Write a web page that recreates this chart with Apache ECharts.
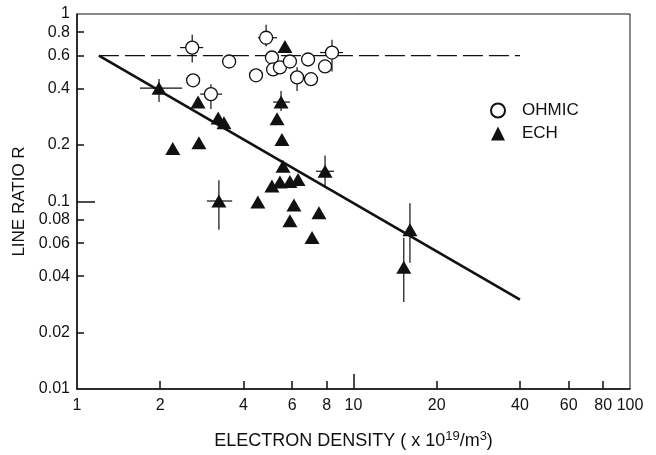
<!DOCTYPE html>
<html>
<head>
    <meta charset="utf-8">
    <title>Line ratio vs electron density</title>
    <script src="https://cdn.jsdelivr.net/npm/echarts@6/dist/echarts.min.js"></script>
    <style>
        html, body { margin: 0; padding: 0; background: #fff; }
        #chart { width: 656px; height: 455px; }
    </style>
</head>
<body>
<div id="chart"></div>
<script>
    // values (x: density in 1e19/m3, y: line ratio R)
    var ohmicX = [2.61, 3.55, 2.63, 3.05, 4.83, 5.07, 5.12, 5.42, 5.89, 6.85, 8.36, 7.89, 4.44, 6.25, 7.02];
    var ohmicY = [0.662, 0.558, 0.443, 0.374, 0.747, 0.586, 0.506, 0.519, 0.558, 0.572, 0.623, 0.525, 0.471, 0.459, 0.449];

    var echX = [1.98, 2.74, 2.22, 2.76, 3.24, 3.40, 3.26, 4.51, 5.47, 5.29, 5.51, 5.65, 5.56, 5.07, 5.42, 5.89, 6.30, 6.09, 5.89, 7.50, 7.89, 16.0, 15.2, 7.08];
    var echY = [0.402, 0.339, 0.1915, 0.206, 0.279, 0.263, 0.1006, 0.0994, 0.339, 0.276, 0.214, 0.670, 0.154, 0.121, 0.127, 0.128, 0.131, 0.0958, 0.0789, 0.087, 0.145, 0.0707, 0.0446, 0.0642];

    // error bars: vertical [x, yLow, yHigh], horizontal [y, xLow, xHigh]
    var errV = [
        [2.61, 0.551, 0.775], [3.05, 0.311, 0.422], [4.83, 0.670, 0.875], [8.36, 0.494, 0.729], [6.25, 0.388, 0.52],
        [1.98, 0.339, 0.45], [3.26, 0.0707, 0.130], [5.47, 0.304, 0.388], [7.89, 0.118, 0.176],
        [16.0, 0.0472, 0.098], [15.2, 0.0291, 0.064]
    ];
    var errH = [
        [0.662, 2.36, 2.86], [0.374, 2.79, 3.35], [0.747, 4.51, 5.29], [0.623, 7.57, 9.16],
        [0.402, 1.69, 2.40], [0.1006, 2.95, 3.64], [0.339, 5.12, 5.89], [0.145, 7.32, 8.50]
    ];

    // fitted line and reference level
    var fitX = [1.2, 40];
    var fitY = [0.6, 0.03];
    var refX = [1.2, 40];
    var refY = [0.6, 0.6];

    var xTicks = [1, 2, 4, 6, 8, 10, 20, 40, 60, 80, 100];
    var yTicks = [0.01, 0.02, 0.04, 0.06, 0.08, 0.1, 0.2, 0.4, 0.6, 0.8, 1];

    function pairs(xs, ys) {
        var out = [];
        for (var i = 0; i < xs.length; i++) out.push([xs[i], ys[i]]);
        return out;
    }
    function fmt(v) {
        return String(+v.toPrecision(2));
    }

    var ink = '#111';
    var sans = '"Liberation Sans", Arial, sans-serif';

    var chart = echarts.init(document.getElementById('chart'));
    var option = {
        animation: false,
        backgroundColor: '#fff',
        grid: {
            left: 77, right: 26, top: 14, bottom: 62,
            show: true, borderColor: ink, borderWidth: 1, backgroundColor: 'transparent'
        },
        legend: {
            data: ['OHMIC', 'ECH'],
            orient: 'vertical',
            left: 485,
            top: 97,
            itemWidth: 14,
            itemHeight: 14,
            itemGap: 6,
            textStyle: { fontSize: 17, color: ink, fontFamily: sans, padding: [0, 0, 0, 12] }
        },
        xAxis: [{
            type: 'log', logBase: 10, min: 1, max: 100,
            name: 'ELECTRON DENSITY ( x 10{sup|19}/m{sup|3})',
            nameLocation: 'middle',
            nameGap: 41,
            nameTextStyle: {
                fontSize: 18, color: ink, fontFamily: sans,
                rich: { sup: { fontSize: 13, color: ink, fontFamily: sans, padding: [0, 0, 9, 0] } }
            },
            axisLine: { lineStyle: { color: ink, width: 1.5 } },
            axisTick: { inside: true, length: 8, lineStyle: { color: ink, width: 1.5 },
                customValues: [2, 4, 6, 8, 20, 40, 60, 80] },
            axisLabel: { customValues: xTicks, formatter: fmt, margin: 9, fontSize: 16, color: ink, fontFamily: sans },
            minorTick: { show: false },
            splitLine: { show: false }
        }, {
            type: 'log', logBase: 10, min: 1, max: 100, position: 'bottom',
            axisLine: { show: false },
            axisTick: { inside: true, length: 15, lineStyle: { color: ink, width: 1.5 }, customValues: [10] },
            axisLabel: { show: false },
            splitLine: { show: false }
        }],
        yAxis: [{
            type: 'log', logBase: 10, min: 0.01, max: 1,
            name: 'LINE RATIO R',
            nameLocation: 'middle',
            nameGap: 47,
            nameTextStyle: { fontSize: 17, color: ink, fontFamily: sans },
            axisLine: { lineStyle: { color: ink, width: 1.5 } },
            axisTick: { inside: true, length: 7, lineStyle: { color: ink, width: 1.5 },
                customValues: [0.02, 0.04, 0.06, 0.08, 0.2, 0.4, 0.6, 0.8] },
            axisLabel: { customValues: yTicks, formatter: fmt, margin: 7, fontSize: 16, color: ink, fontFamily: sans },
            minorTick: { show: false },
            splitLine: { show: false }
        }, {
            type: 'log', logBase: 10, min: 0.01, max: 1, position: 'left',
            axisLine: { show: false },
            axisTick: { inside: true, length: 18, lineStyle: { color: ink, width: 1.5 }, customValues: [0.1] },
            axisLabel: { show: false },
            splitLine: { show: false }
        }],
        series: [
            {
                name: 'ref', type: 'line', data: pairs(refX, refY), symbol: 'none', z: 1,
                lineStyle: { color: ink, width: 1.3, type: [20, 6] }, silent: true
            },
            {
                name: 'fit', type: 'line', data: pairs(fitX, fitY), symbol: 'none', z: 1,
                lineStyle: { color: ink, width: 2.6 }, silent: true
            },
            {
                name: 'errV', type: 'custom', z: 2, data: errV,
                renderItem: function (params, api) {
                    var a = api.coord([api.value(0), api.value(1)]);
                    var b = api.coord([api.value(0), api.value(2)]);
                    return { type: 'line', shape: { x1: a[0], y1: a[1], x2: b[0], y2: b[1] },
                        style: { stroke: ink, lineWidth: 1.2 } };
                }
            },
            {
                name: 'errH', type: 'custom', z: 2, data: errH,
                renderItem: function (params, api) {
                    var a = api.coord([api.value(1), api.value(0)]);
                    var b = api.coord([api.value(2), api.value(0)]);
                    return { type: 'line', shape: { x1: a[0], y1: a[1], x2: b[0], y2: b[1] },
                        style: { stroke: ink, lineWidth: 1.2 } };
                }
            },
            {
                name: 'OHMIC', type: 'scatter', data: pairs(ohmicX, ohmicY), z: 3,
                symbol: 'circle', symbolSize: 13,
                itemStyle: { color: '#fff', borderColor: ink, borderWidth: 1.3, opacity: 1 }
            },
            {
                name: 'ECH', type: 'scatter', data: pairs(echX, echY), z: 4,
                symbol: 'triangle', symbolSize: [15, 13],
                itemStyle: { color: ink, opacity: 1 }
            }
        ]
    };
    chart.setOption(option);
</script>
</body>
</html>
